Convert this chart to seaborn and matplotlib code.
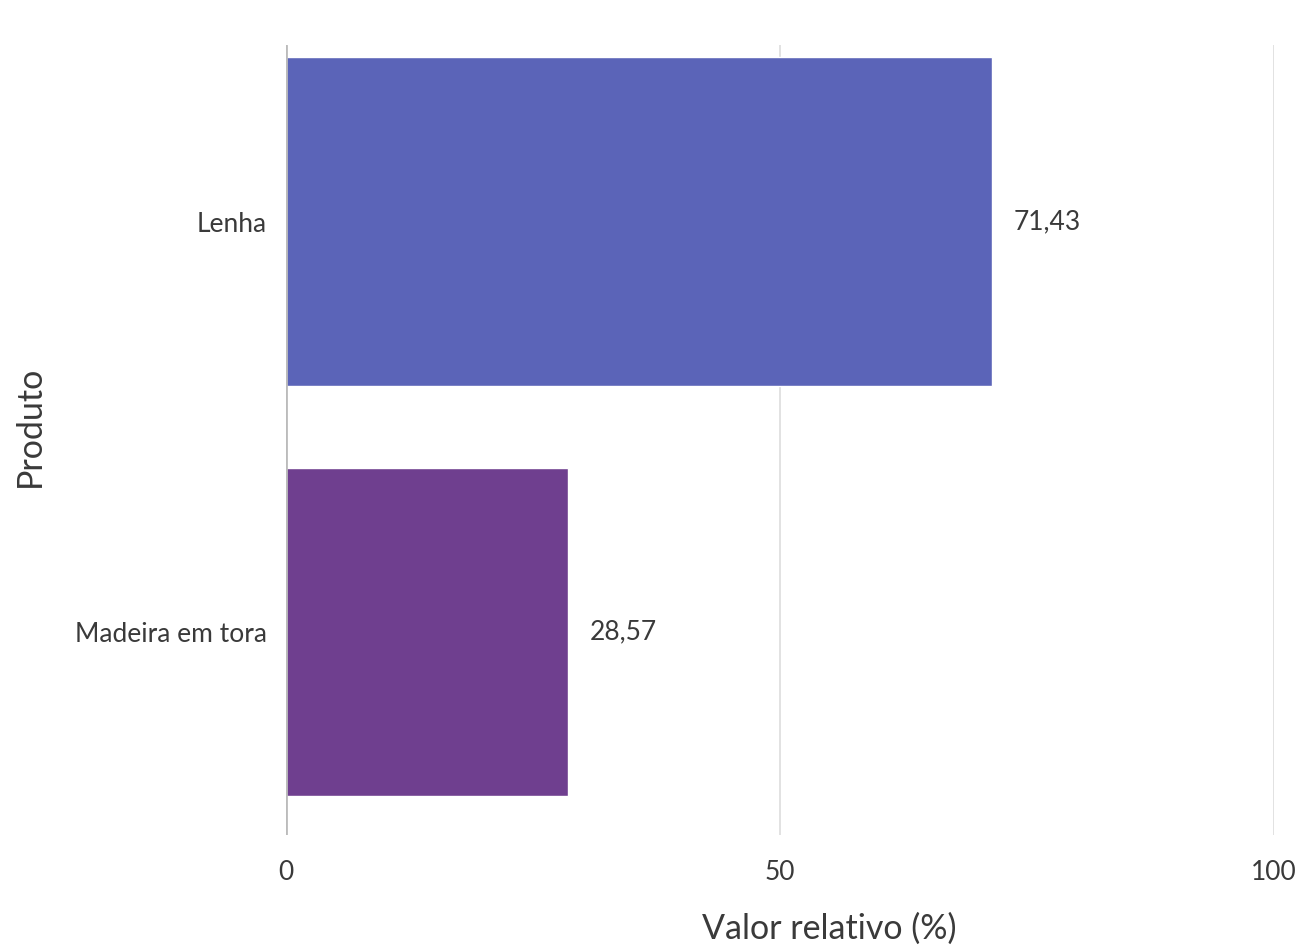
import matplotlib
matplotlib.use("Agg")
import matplotlib.pyplot as plt
import seaborn as sns
import pandas as pd

# Data
produtos = ["Lenha", "Madeira em tora"]
valores = [71.43, 28.57]
cores = ["#5B64B8", "#6F3F8F"]
xticks = [0, 50, 100]

sns.set_theme(style="white")
plt.rcParams["font.family"] = ["Lato", "DejaVu Sans"]

df = pd.DataFrame({"Produto": produtos, "Valor": valores})

W, H = 1302, 946
fig = plt.figure(figsize=(W / 100, H / 100), dpi=100)
ax = fig.add_axes([286 / W, 1 - 835 / H, (1274 - 286) / W, (835 - 45) / H])

sns.barplot(data=df, x="Valor", y="Produto", hue="Produto", palette=cores,
            width=0.8, saturation=1, legend=False, ax=ax, zorder=2)

# Grid lines
for x in xticks:
    if x == 0:
        ax.axvline(x, color="#bbbbbb", lw=2, zorder=3)
    else:
        ax.axvline(x, color="#dddddd", lw=1.2, zorder=1)

txt = "#3a3a3a"
ax.set_xlim(0, 100)
ax.set_ylim(1.494, -0.43)
ax.set_xticks(xticks)
ax.set_xticklabels([str(t) for t in xticks], fontsize=19, color=txt)
ax.set_yticks(range(len(produtos)))
ax.set_yticklabels(produtos, fontsize=19, color=txt)
ax.tick_params(axis="x", length=0, pad=18)
ax.tick_params(axis="y", length=0, pad=14)

for i, v in enumerate(valores):
    ax.text(v + 2.2, i, f"{v:.2f}".replace(".", ","), va="center", ha="left",
            fontsize=19, color=txt)

ax.set_xlabel("")
ax.set_ylabel("")
fig.text(829 / W, 1 - 929 / H, "Valor relativo (%)", ha="center", va="center",
         fontsize=24.5, color=txt)
fig.text(30 / W, 1 - 426 / H, "Produto", ha="center", va="center", rotation=90,
         fontsize=24.5, color=txt)

sns.despine(ax=ax, left=True, bottom=True)

fig.savefig("out.png", dpi=100)
